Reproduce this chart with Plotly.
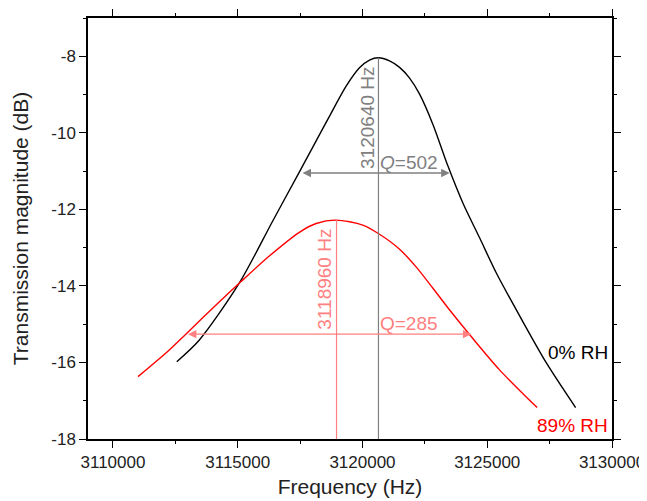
import plotly.graph_objects as go

# 0% RH curve
f_dry = [3112558, 3113454, 3115060, 3116398, 3117490, 3118004, 3118675, 3119345, 3119880,
         3120281, 3120631, 3121084, 3121486, 3121888, 3122289, 3122823, 3123426, 3124028,
         3124699, 3125369, 3126305, 3127377, 3128542]
db_dry = [-15.98, -15.42, -13.93, -12.31, -11.00, -10.38, -9.57, -8.78, -8.30,
          -8.10, -8.04, -8.12, -8.29, -8.57, -8.99, -9.78, -10.87, -11.84,
          -12.75, -13.67, -14.79, -16.02, -17.18]

# 89% RH curve
f_wet = [3111004, 3112249, 3112920, 3114257, 3115060, 3116265, 3117470, 3118141, 3118944,
         3120012, 3120683, 3121486, 3122157, 3122823, 3123494, 3124365, 3125502, 3127000]
db_wet = [-16.37, -15.68, -15.26, -14.42, -13.93, -13.22, -12.60, -12.37, -12.28,
          -12.41, -12.65, -13.04, -13.51, -14.06, -14.63, -15.33, -16.20, -17.18]

# resonance markers: peak freq, peak dB, half-power dB, half-power band edges
peak_f = [3120640, 3118960]
peak_db = [-8.04, -12.28]
half_db = [-11.05, -15.26]
band_lo = [3117538, 3112944]
band_hi = [3123494, 3124365]
q_text = ["<i>Q</i>=502", "Q=285"]
f_text = ["3120640 Hz", "3118960 Hz"]
mark_col = ["#808080", "#ff8080"]

labels = ["0% RH", "89% RH"]
label_db = [-15.73, -17.66]
label_col = ["black", "#ff0000"]

x_ticks = [3110000, 3115000, 3120000, 3125000, 3130000]
x_ticktext = ["3110000", "3115000", "3120000", "3125000", "3130000"]
y_ticks = [-18, -16, -14, -12, -10, -8]
y_ticktext = ["-18", "-16", "-14", "-12", "-10", "-8"]

FONT = "Liberation Sans, Arial, sans-serif"

fig = go.Figure()

fig.add_trace(go.Scatter(x=f_dry, y=db_dry, mode="lines",
                         line=dict(color="black", width=1.4, shape="spline", smoothing=0.8)))
fig.add_trace(go.Scatter(x=f_wet, y=db_wet, mode="lines",
                         line=dict(color="#ff0000", width=1.4, shape="spline", smoothing=0.8)))

for i in range(2):
    # vertical line from the bottom of the axis up to the peak
    fig.add_trace(go.Scatter(x=[peak_f[i], peak_f[i]], y=[-18, peak_db[i]], mode="lines",
                             line=dict(color=mark_col[i], width=1.2)))
    # double arrow across the half-power band
    fig.add_annotation(x=band_hi[i], y=half_db[i], ax=band_lo[i], ay=half_db[i],
                       xref="x", yref="y", axref="x", ayref="y", text="",
                       showarrow=True, arrowside="end+start", arrowhead=2,
                       arrowsize=1.3, arrowwidth=1.3, arrowcolor=mark_col[i])
    fig.add_annotation(x=peak_f[i], y=half_db[i], text=f_text[i], textangle=-90,
                       showarrow=False, xanchor="right", yanchor="bottom",
                       xshift=1, yshift=2,
                       font=dict(family=FONT, size=19, color=mark_col[i]))
    fig.add_annotation(x=peak_f[0], y=half_db[i], text=q_text[i], showarrow=False,
                       xanchor="left", yanchor="bottom", xshift=0, yshift=-2,
                       font=dict(family=FONT, size=19, color=mark_col[i]))
    fig.add_annotation(x=1, xref="paper", y=label_db[i], yref="y", text=labels[i],
                       showarrow=False, xanchor="right", yanchor="middle", xshift=-2,
                       font=dict(family=FONT, size=19, color=label_col[i]))

axis_common = dict(showline=True, linecolor="black", linewidth=1.5, mirror="ticks",
                   ticks="outside", ticklen=7, tickwidth=1.3, tickcolor="black",
                   showgrid=False, zeroline=False, automargin=False,
                   tickfont=dict(family=FONT, size=17, color="#222"))

fig.update_xaxes(range=[3109000, 3130000], tickmode="array", tickvals=x_ticks,
                 ticktext=x_ticktext,
                 minor=dict(tickmode="linear", tick0=3110000, dtick=2500, ticklen=3,
                            tickwidth=1.2, tickcolor="black", ticks="outside"),
                 title=dict(text="Frequency (Hz)", standoff=8,
                            font=dict(family=FONT, size=21, color="#222")),
                 **axis_common)
fig.update_yaxes(range=[-18, -7], tickmode="array", tickvals=y_ticks,
                 ticktext=y_ticktext,
                 minor=dict(tickmode="linear", tick0=-17, dtick=1, ticklen=3,
                            tickwidth=1.2, tickcolor="black", ticks="outside"),
                 title=dict(text="Transmission magnitude (dB)", standoff=17,
                            font=dict(family=FONT, size=21, color="#222")),
                 **axis_common)

# page has an 8px body margin, so the figure is a little smaller than the window
fig.update_layout(width=639, height=493, showlegend=False,
                  margin=dict(l=80, r=35, t=10, b=62),
                  paper_bgcolor="white", plot_bgcolor="white",
                  font=dict(family=FONT))

fig.write_html("out.html")
